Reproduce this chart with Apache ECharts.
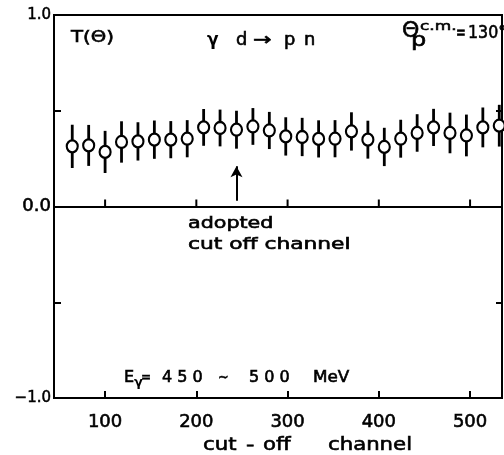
<!DOCTYPE html>
<html>
<head>
<meta charset="utf-8">
<script src="https://cdn.jsdelivr.net/npm/echarts@6/dist/echarts.min.js"></script>
<style>
html,body{margin:0;padding:0;background:#fff;}
#c{width:504px;height:455px;}
</style>
</head>
<body>
<div id="c"></div>
<script>
// Data
const channels = [64, 82, 100, 118, 136, 154, 172, 190, 208, 226, 244, 262, 280, 298, 316, 334, 352, 370, 388, 406, 424, 442, 460, 478, 496, 514, 532];
const tValues  = [0.314, 0.319, 0.285, 0.337, 0.340, 0.349, 0.349, 0.354, 0.413, 0.410, 0.401, 0.418, 0.397, 0.366, 0.363, 0.353, 0.354, 0.392, 0.349, 0.311, 0.354, 0.384, 0.413, 0.384, 0.371, 0.413, 0.422];
const tErrors  = [0.113, 0.107, 0.110, 0.108, 0.100, 0.100, 0.097, 0.097, 0.096, 0.096, 0.099, 0.096, 0.097, 0.100, 0.100, 0.097, 0.097, 0.100, 0.099, 0.100, 0.099, 0.098, 0.097, 0.106, 0.109, 0.104, 0.109];
const xTickLabels = [100, 200, 300, 400, 500];
const yTickLabels = [-1, 0, 1];
const arrowChannel = 244;
const arrowFrom = 0.03;
const arrowTo = 0.21;

const chart = echarts.init(document.getElementById('c'), null, {renderer: 'canvas'});
const FONT = 'DejaVu Sans';
const pts = channels.map((c, i) => [c, tValues[i], tErrors[i]]);

const axisLineStyle = {color: '#000', width: 2};

function txt(text, x, y, size, sx, weight) {
  return {
    type: 'text', x: x, y: y, scaleX: sx || 1, originX: 0, originY: 0, silent: true,
    style: {text: text, fontSize: size, fontFamily: FONT, fontWeight: weight || 'normal',
      fill: '#000', stroke: '#000', lineWidth: weight === 'bold' ? 0 : 0.6, align: 'left', verticalAlign: 'top'}
  };
}

const option = {
  animation: false,
  backgroundColor: '#fff',
  textStyle: {fontFamily: FONT, color: '#000'},
  grid: {left: 54, right: 2, top: 15, bottom: 57, show: true, borderColor: '#000', borderWidth: 2, backgroundColor: 'transparent'},
  xAxis: [
    {
      type: 'value', min: 44, max: 535, position: 'bottom',
      axisLine: {show: true, onZero: false, lineStyle: axisLineStyle},
      axisTick: {show: true, inside: true, length: 7, customValues: xTickLabels, lineStyle: {color: '#000', width: 2}},
      axisLabel: {show: true, customValues: xTickLabels, fontSize: 18, color: '#000', margin: 15, fontFamily: FONT,
        textBorderColor: '#000', textBorderWidth: 0.6},
      splitLine: {show: false}
    },
    {
      type: 'value', min: 44, max: 535, position: 'bottom',
      axisLine: {show: true, onZero: true, lineStyle: axisLineStyle},
      axisTick: {show: false},
      axisLabel: {show: false},
      splitLine: {show: false}
    }
  ],
  yAxis: [
    {
      type: 'value', min: -1, max: 1, interval: 0.5, position: 'left',
      axisLine: {show: true, onZero: false, lineStyle: axisLineStyle},
      axisTick: {show: true, inside: true, length: 7, lineStyle: {color: '#000', width: 2}},
      axisLabel: {show: true, customValues: yTickLabels, color: '#000', margin: 3, fontFamily: FONT, fontSize: 15,
        textBorderColor: '#000', textBorderWidth: 0.5,
        formatter: v => v === 0 ? '{b|0.0}' : (v < 0 ? '{s|\u22121.0}' : '{s|1.0}'),
        rich: {
          s: {fontSize: 15, fontFamily: FONT, color: '#000', textBorderColor: '#000', textBorderWidth: 0.5},
          b: {fontSize: 18, fontFamily: FONT, color: '#000', textBorderColor: '#000', textBorderWidth: 0.6}
        }},
      splitLine: {show: false}
    },
    {
      type: 'value', min: -1, max: 1, interval: 0.5, position: 'right',
      axisLine: {show: true, onZero: false, lineStyle: axisLineStyle},
      axisTick: {show: true, inside: true, length: 6, lineStyle: {color: '#000', width: 2}},
      axisLabel: {show: false},
      splitLine: {show: false}
    }
  ],
  series: [
    {
      // small upward ticks on the zero line at the labelled channels
      type: 'custom',
      xAxisIndex: 0, yAxisIndex: 0,
      data: xTickLabels.map(v => [v, 0]),
      z: 2,
      silent: true,
      renderItem: function (params, api) {
        const p = api.coord([api.value(0), api.value(1)]);
        return {type: 'line', shape: {x1: p[0], y1: p[1], x2: p[0], y2: p[1] - 7}, style: {stroke: '#000', lineWidth: 2}};
      }
    },
    {
      type: 'custom',
      xAxisIndex: 0, yAxisIndex: 0,
      data: pts,
      z: 2,
      renderItem: function (params, api) {
        const x = api.value(0), y = api.value(1), e = api.value(2);
        const p1 = api.coord([x, y + e]);
        const p2 = api.coord([x, y - e]);
        return {type: 'line', shape: {x1: p1[0], y1: p1[1], x2: p2[0], y2: p2[1]}, style: {stroke: '#000', lineWidth: 2.8}};
      }
    },
    {
      type: 'scatter',
      xAxisIndex: 0, yAxisIndex: 0,
      data: pts.map(p => [p[0], p[1]]),
      symbol: 'circle',
      symbolSize: [11, 12],
      z: 3,
      itemStyle: {color: '#fff', borderColor: '#000', borderWidth: 2.2, opacity: 1},
      markLine: {
        silent: true,
        symbolSize: [9, 11],
        label: {show: false},
        lineStyle: {color: '#000', width: 2, type: 'solid'},
        data: [[
          {coord: [arrowChannel, arrowFrom], symbol: 'none'},
          {coord: [arrowChannel, arrowTo], symbol: 'arrow'}
        ]]
      }
    }
  ],
  graphic: [
    txt('T(\u0398)', 71, 30, 16, 1.23),
    txt('\u03b3', 207, 32, 17, 1.0, 'bold'),
    txt('d', 236, 32, 17, 1.05),
    txt('\u2192', 253, 32, 17, 1.3),
    txt('p', 284, 32, 17, 1.05),
    txt('n', 304, 32, 17, 1.05),
    txt('\u0398', 402, 21, 21, 1.05),
    txt('p', 411, 31, 20, 1.2),
    txt('c.m.', 420, 20, 13, 1.3),
    txt('=', 456, 24, 18, 0.65),
    txt('130\u00b0', 468, 24, 18, 0.88),
    txt('adopted', 188, 216, 16, 1.29),
    txt('cut off channel', 188, 237, 16, 1.36),
    txt('E', 124, 370, 16, 1.0),
    txt('\u03b3', 134, 376, 13, 1.0, 'bold'),
    txt('=', 141, 370, 16, 0.75),
    txt('4 5 0', 162, 370, 16, 1.0),
    txt('~', 218, 370, 16, 0.8),
    txt('5 0 0', 249, 370, 16, 1.0),
    txt('MeV', 313, 370, 16, 1.05),
    txt('cut', 203, 436, 18, 1.18),
    txt('-', 246, 436, 18, 1.3),
    txt('off', 263, 436, 18, 1.18),
    txt('channel', 328, 436, 18, 1.18)
  ]
};
chart.setOption(option);
</script>
</body>
</html>
